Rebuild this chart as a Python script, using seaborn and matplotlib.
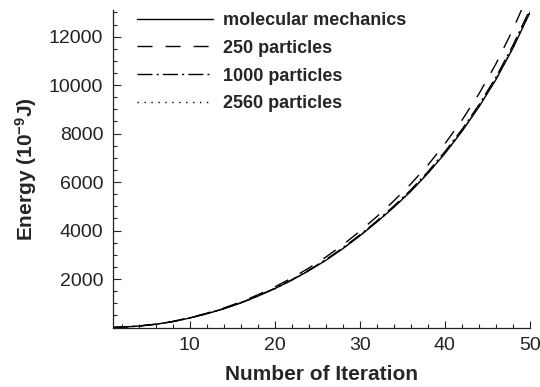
import matplotlib
matplotlib.use("Agg")
import matplotlib.pyplot as plt
import seaborn as sns
import pandas as pd
from matplotlib.ticker import MultipleLocator, FixedLocator

iterations = [1, 2, 4, 6, 8, 10, 12, 14, 16, 18, 20, 22, 24, 26, 28, 30,
              32, 34, 36, 38, 40, 42, 44, 46, 48, 50]
molecular = [4, 14, 58, 132, 240, 390, 565, 770, 1010, 1290, 1600, 1950, 2340,
             2770, 3250, 3780, 4350, 4960, 5620, 6360, 7180, 8090, 9100,
             10230, 11530, 13000]
p250 = [4, 15, 60, 137, 250, 406, 588, 802, 1053, 1346, 1672, 2040, 2450,
        2903, 3410, 3970, 4575, 5225, 5925, 6700, 7580, 8550, 9640, 10880,
        12300, 13910]
p1000 = [4, 14, 59, 133, 242, 394, 571, 778, 1020, 1303, 1616, 1970, 2365,
         2800, 3285, 3820, 4395, 5010, 5680, 6425, 7255, 8170, 9190, 10330,
         11645, 13130]
p2560 = [4, 14, 58, 132, 241, 391, 567, 772, 1013, 1294, 1605, 1956, 2347,
         2778, 3260, 3791, 4363, 4975, 5637, 6380, 7200, 8115, 9127, 10260,
         11565, 13040]
labels = ["molecular mechanics", "250 particles", "1000 particles", "2560 particles"]
yticks = [2000, 4000, 6000, 8000, 10000, 12000]
xticks = [10, 20, 30, 40, 50]

sns.set_style("ticks")
plt.rcParams["font.family"] = ["Liberation Sans", "DejaVu Sans"]
plt.rcParams["mathtext.fontset"] = "custom"
plt.rcParams["mathtext.rm"] = "Liberation Sans:bold"
plt.rcParams["mathtext.it"] = "Liberation Sans:bold"
plt.rcParams["mathtext.bf"] = "Liberation Sans:bold"
plt.rcParams["lines.scale_dashes"] = False

fig = plt.figure(figsize=(5.4, 3.87), dpi=100)
ax = fig.add_axes([113/540, 1 - 327.5/387, (530-113)/540, (327.5-10)/387])

styles = ["-", (0, (10.8, 9.4)), (0, (10.8, 3.0, 1.5, 3.0)), (0, (1.0, 4.0))]
series = [molecular, p250, p1000, p2560]
for vals, lab, ls in zip(series, labels, styles):
    df = pd.DataFrame({"Iteration": iterations, "Energy": vals})
    sns.lineplot(data=df, x="Iteration", y="Energy", ax=ax, color="black",
                 linewidth=1.0, linestyle=ls, label=lab)

ax.set_xlim(1, 50)
ax.set_ylim(0, 13100)
ax.xaxis.set_major_locator(FixedLocator(xticks))
ax.xaxis.set_minor_locator(MultipleLocator(2))
ax.yaxis.set_major_locator(FixedLocator(yticks))
ax.yaxis.set_minor_locator(MultipleLocator(500))
ax.tick_params(which="major", direction="in", length=5.4, width=0.8,
               labelsize=14, pad=7, colors="#222222")
ax.tick_params(which="minor", direction="in", length=2.9, width=0.8,
               colors="#222222")
for s in ["top", "right"]:
    ax.spines[s].set_visible(False)
for s in ["left", "bottom"]:
    ax.spines[s].set_linewidth(0.9)
    ax.spines[s].set_color("#222222")

ax.set_xlabel("Number of Iteration", fontsize=15, fontweight="bold", labelpad=8)
ax.set_ylabel(r"Energy (10$^{-9}$J)", fontsize=15, fontweight="bold", labelpad=7)

ax.legend(loc="upper left", bbox_to_anchor=(0.0576, 0.994), frameon=False,
          borderpad=0, borderaxespad=0, handlelength=4.2, handletextpad=0.55,
          labelspacing=0.6, prop={"weight": "bold", "size": 13})

fig.savefig("out.png", dpi=100)
